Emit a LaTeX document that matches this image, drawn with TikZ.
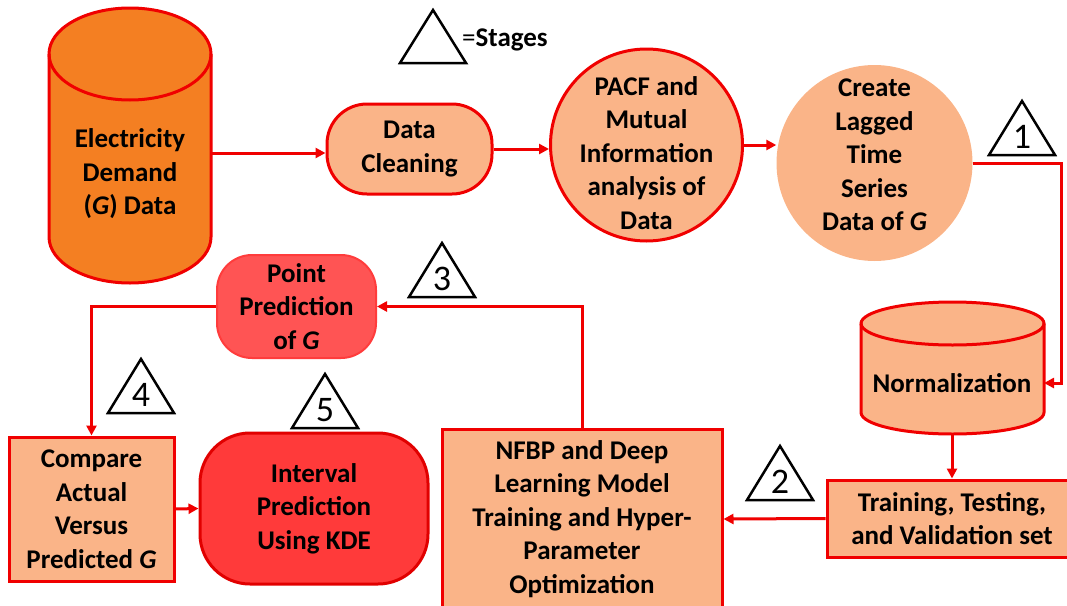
\documentclass[tikz,border=0pt]{standalone}
\usepackage{fontspec}
\setmainfont{Carlito}[ItalicFont={Carlito Italic}, BoldFont={Carlito Bold}, BoldItalicFont={Carlito Bold Italic}]
\usepackage{xcolor}
\usepackage{tikz}
\usetikzlibrary{arrows.meta}
\definecolor{tankorange}{RGB}{244,127,34}
\definecolor{peach}{RGB}{250,180,136}
\definecolor{linered}{RGB}{240,0,0}
\definecolor{pointred}{RGB}{255,84,84}
\definecolor{pointline}{RGB}{255,60,60}
\definecolor{kdered}{RGB}{255,58,58}
\definecolor{kdeline}{RGB}{225,0,0}

\begin{document}
\begin{tikzpicture}[x=1pt,y=1pt,
  txt/.style={font=\fontsize{27}{33.5}\selectfont\bfseries, align=center, inner sep=0pt},
  box/.style={txt, draw=linered, line width=3pt, fill=peach},
  bubble/.style={circle, minimum size=192, inner sep=0pt, fill=peach},
  flow/.style={draw=linered, line width=3pt, -{Triangle[length=10pt,width=10pt]}},
  tank/.style={draw=linered, line width=3pt, line join=round},
  stage/.style={draw=black, line width=2.5pt, line join=miter},
  stagenum/.style={font=\fontsize{36}{36}\selectfont, inner sep=0pt}]
\useasboundingbox (0,0) rectangle (1067,-605);

% drums
\filldraw[tank, fill=tankorange] (49,-54) -- (49,-237) arc[start angle=180,end angle=360,x radius=81,y radius=46] -- (211,-54) arc[start angle=0,end angle=180,x radius=81,y radius=46] -- cycle; % demand data
\draw[tank] (49,-54) arc[start angle=180,end angle=360,x radius=81,y radius=46];
\filldraw[tank, fill=peach] (861,-323.5) -- (861,-412.5) arc[start angle=180,end angle=360,x radius=91.5,y radius=21.5] -- (1044,-323.5) arc[start angle=0,end angle=180,x radius=91.5,y radius=21.5] -- cycle; % normalization
\draw[tank] (861,-323.5) arc[start angle=180,end angle=360,x radius=91.5,y radius=21.5];
\node[txt] (elec) at (130,-174) {Electricity\\Demand\\(\textit{G}) Data};
\node[txt] (norm) at (952,-383) {Normalization};
\coordinate (elec-out) at (211,-153);
\coordinate (norm-in) at (1044,-383);
\coordinate (norm-out) at (952,-434);

% top row
\node[box, rounded corners=40pt, minimum width=165, minimum height=90] (clean) at (409.5,-149) {Data\\Cleaning};
\node[bubble, draw=linered, line width=3pt] (pacf) at (646.5,-145) {};
\node[txt] (pacf-t) at (646.5,-153) {PACF and\\Mutual\\Information\\analysis of\\Data};
\node[bubble, minimum size=196] (lag) at (874.5,-163) {};
\node[txt] (lag-t) at (874.5,-155) {Create\\Lagged\\Time\\Series\\Data of \textit{G}};

% lower boxes
\node[box, minimum width=250, minimum height=77] (train) at (952,-518.5) {Training, Testing,\\and Validation set};
\node[box, minimum width=280, minimum height=180] (nfbp) at (582,-519) {NFBP and Deep\\Learning Model\\Training and Hyper-\\Parameter\\Optimization};
\node[box, fill=pointred, draw=pointline, line width=2pt, rounded corners=35pt, minimum width=159, minimum height=103] (point) at (296.5,-306.5) {Point\\Prediction\\of \textit{G}};
\node[box, minimum width=165, minimum height=144] (compare) at (91.5,-509) {Compare\\Actual\\Versus\\Predicted \textit{G}};
\node[box, fill=kdered, draw=kdeline, rounded corners=50pt, minimum width=228, minimum height=151] (kde) at (314,-508.5) {Interval\\Prediction\\Using KDE};

% arrows
\draw[flow] (elec-out) -- (elec-out -| clean.west);
\draw[flow] (clean.east) -- (clean.east -| pacf.west);
\draw[flow] (pacf.east) -- (pacf.east -| lag.west);
\draw[flow] (lag.east) -- ++(89,0) |- (norm-in);
\draw[flow] (norm-out) -- (train.north);
\draw[flow] (train.west) -- (nfbp.east);
\draw[flow] (nfbp.north) |- (point.east);
\draw[flow] (point.west) -| (compare.north);
\draw[flow] (compare.east) -- (kde.west);

% stages
\draw[stage] (400,-63) -- (433,-10) -- (466,-63) -- cycle;
\node[txt, anchor=base west] (legend) at (462,-46) {{\mdseries =}Stages};
\foreach \n/\x/\y in {1/1022/155, 2/780/500, 3/442/297, 4/141/413, 5/325/428}{
  \draw[stage] ({\x-33},-\y) -- (\x,{-\y+54}) -- ({\x+33},-\y) -- cycle;
  \node[stagenum] (stage\n) at (\x,{-\y+18}) {\n};
}
\end{tikzpicture}
\end{document}
